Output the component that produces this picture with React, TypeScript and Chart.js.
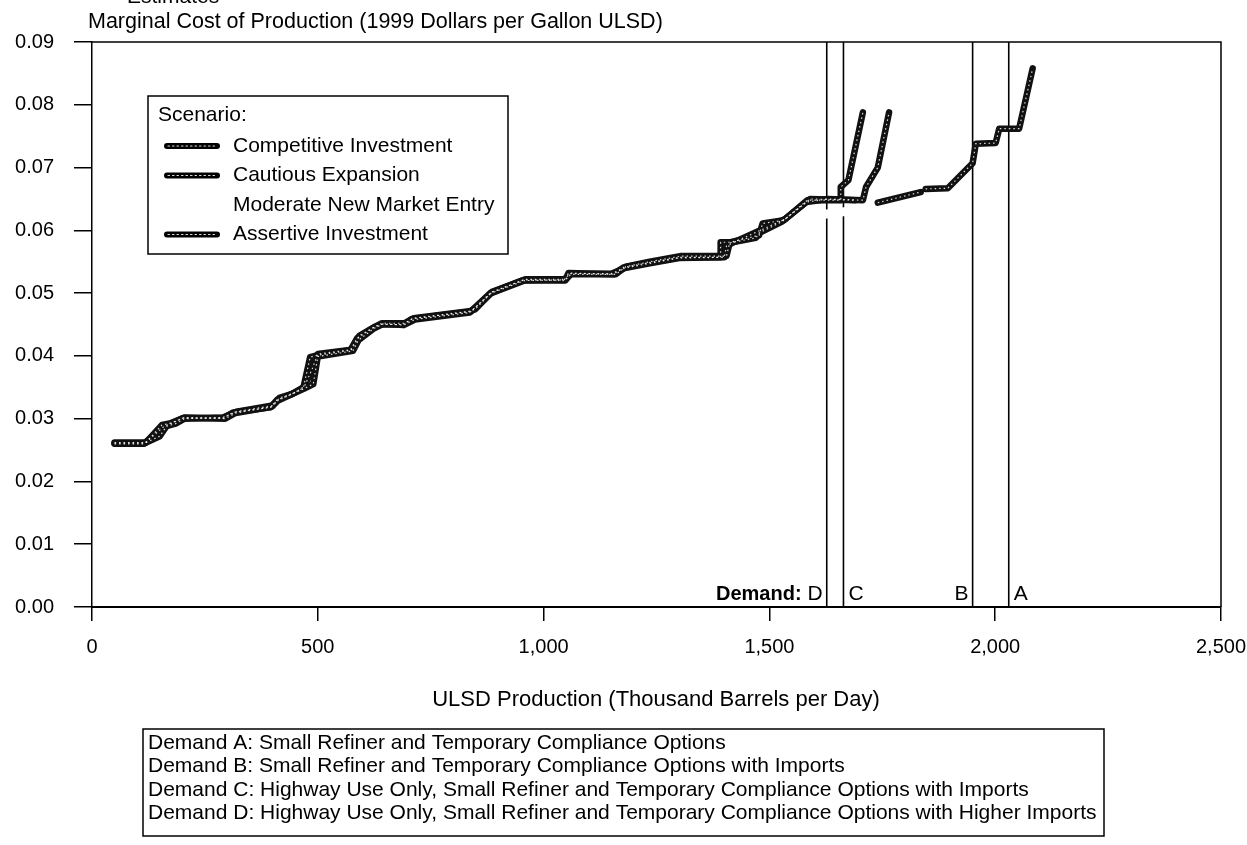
import React, { useEffect, useRef } from 'react';
import { Chart, registerables } from 'chart.js';

Chart.register(...registerables);

const FONT = '"Liberation Sans", Arial, Helvetica, sans-serif';

// ---- Data (ULSD production in thousand bbl/day, marginal cost in 1999 $/gal) ----
const scenarioNames = [
  'Competitive Investment',
  'Cautious Expansion',
  'Moderate New Market Entry',
  'Assertive Investment',
];

const competitiveX = [50, 118, 155, 175, 202, 291, 313, 395, 410, 439, 468, 483, 498, 572, 587, 623, 640, 689, 709, 831, 838, 882, 955, 1048, 1055, 1155, 1177, 1230, 1303, 1392, 1392, 1414, 1477, 1485, 1532, 1584, 1658, 1658, 1675, 1707];
const competitiveY = [0.0261, 0.0261, 0.029, 0.0293, 0.0301, 0.0301, 0.031, 0.0318, 0.033, 0.0338, 0.0349, 0.0398, 0.0401, 0.0409, 0.0428, 0.0445, 0.045, 0.045, 0.0459, 0.047, 0.047, 0.05, 0.0521, 0.052, 0.0532, 0.053, 0.0541, 0.0548, 0.0557, 0.0557, 0.0581, 0.0581, 0.0592, 0.0611, 0.0616, 0.0648, 0.0648, 0.0669, 0.068, 0.0788];

const cautiousX = [50, 120, 150, 165, 185, 205, 290, 320, 400, 415, 445, 470, 488, 500, 575, 592, 628, 642, 692, 712, 835, 848, 886, 960, 1050, 1060, 1160, 1182, 1235, 1305, 1405, 1412, 1470, 1478, 1528, 1582, 1630, 1707, 1714, 1740, 1765];
const cautiousY = [0.0262, 0.0262, 0.0272, 0.0288, 0.0292, 0.03, 0.0302, 0.0311, 0.0321, 0.0333, 0.034, 0.0351, 0.038, 0.0403, 0.041, 0.0432, 0.0447, 0.0452, 0.0452, 0.046, 0.0471, 0.0474, 0.0502, 0.0522, 0.0522, 0.053, 0.053, 0.0542, 0.055, 0.0559, 0.0559, 0.058, 0.0588, 0.0596, 0.0614, 0.0645, 0.065, 0.0648, 0.0669, 0.07, 0.0788];

const moderateX = [50, 120, 160, 205, 290, 400, 480, 495, 580, 595, 630, 690, 840, 882, 960, 1050, 1060, 1160, 1300, 1400, 1480, 1530, 1585, 1700];
const moderateY = [0.0261, 0.0261, 0.029, 0.03, 0.03, 0.032, 0.035, 0.04, 0.041, 0.043, 0.045, 0.045, 0.047, 0.05, 0.052, 0.052, 0.053, 0.053, 0.0557, 0.0557, 0.0595, 0.0605, 0.0622, 0.0633];

const assertiveX = [50, 115, 160, 180, 205, 295, 318, 398, 412, 442, 470, 490, 500, 578, 590, 625, 645, 690, 715, 836, 884, 958, 1045, 1058, 1150, 1180, 1232, 1300, 1400, 1405, 1418, 1480, 1535, 1590, 1690, 1715, 1740, 1835, 1840, 1846, 1895, 1950, 1957, 2001, 2009, 2053, 2083];
const assertiveY = [0.026, 0.026, 0.0288, 0.0294, 0.0302, 0.03, 0.0309, 0.0319, 0.0329, 0.0339, 0.0348, 0.0355, 0.0399, 0.0408, 0.0425, 0.0444, 0.0451, 0.0449, 0.0458, 0.0469, 0.05, 0.052, 0.0521, 0.0531, 0.0531, 0.054, 0.0547, 0.0556, 0.0557, 0.0575, 0.058, 0.06, 0.0618, 0.065, 0.0648, null, 0.0644, 0.0661, null, 0.0666, 0.0667, 0.0707, 0.0738, 0.0739, 0.0762, 0.0762, 0.0858];

const demandLetters = ['A', 'B', 'C', 'D'];
const demandX = [2030, 1950, 1664, 1627];
const demandNotes = [
  'Demand A: Small Refiner and Temporary Compliance Options',
  'Demand B: Small Refiner and Temporary Compliance Options with Imports',
  'Demand C: Highway Use Only, Small Refiner and Temporary Compliance Options with Imports',
  'Demand D: Highway Use Only, Small Refiner and Temporary Compliance Options with Higher Imports',
];

const xTickValues = [0, 500, 1000, 1500, 2000, 2500];
const yTickValues = [0, 0.01, 0.02, 0.03, 0.04, 0.05, 0.06, 0.07, 0.08, 0.09];

const yTitle = 'Marginal Cost of Production (1999 Dollars per Gallon ULSD)';
const xTitle = 'ULSD Production (Thousand Barrels per Day)';
const topCutText = 'Estimates';

const zip = (xs: number[], ys: (number | null)[]) => xs.map((x, i) => ({ x, y: ys[i] }));

const TEXT_SIZE = 21;

const speckle = {
  id: 'speckle',
  afterDatasetsDraw(chart: any) {
    const { ctx } = chart;
    ctx.save();
    ctx.strokeStyle = 'rgba(255,255,255,0.85)';
    ctx.lineWidth = 1.2;
    ctx.setLineDash([1.5, 3]);
    chart.data.datasets.forEach((ds: any, i: number) => {
      if (!ds.speckle) return;
      const pts = chart.getDatasetMeta(i).data;
      ctx.beginPath();
      let pen = false;
      pts.forEach((p: any, j: number) => {
        if (ds.data[j].y === null) { pen = false; return; }
        if (!pen) { ctx.moveTo(p.x, p.y); pen = true; } else ctx.lineTo(p.x, p.y);
      });
      ctx.stroke();
    });
    ctx.restore();
  },
};

const decorPlugin = {
  id: 'decor',
  afterDraw(chart: any) {
    const { ctx, chartArea, scales } = chart;
    const xs = scales.x;
    const ys = scales.y;
    ctx.save();
    ctx.fillStyle = '#000';
    ctx.strokeStyle = '#000';

    // frame (top & right)
    ctx.lineWidth = 1.5;
    ctx.beginPath();
    ctx.moveTo(chartArea.left, chartArea.top);
    ctx.lineTo(chartArea.right, chartArea.top);
    ctx.lineTo(chartArea.right, chartArea.bottom);
    ctx.stroke();

    // cut-off header + y title
    ctx.font = `${TEXT_SIZE}px ${FONT}`;
    ctx.textAlign = 'left';
    ctx.textBaseline = 'alphabetic';
    ctx.fillText(topCutText, 127, 3);
    ctx.textBaseline = 'middle';
    ctx.font = `21.5px ${FONT}`;
    ctx.fillText(yTitle, 88, 22);
    ctx.font = `${TEXT_SIZE}px ${FONT}`;

    // scenario legend
    const lx = 148, ly = 96, lw = 360, lh = 158;
    ctx.lineWidth = 1.5;
    ctx.strokeRect(lx, ly, lw, lh);
    ctx.fillText('Scenario:', 158, 115);
    scenarioNames.forEach((name, i) => {
      const yy = 146 + i * 29.5;
      if (i !== 2) {
        ctx.lineWidth = 6;
        ctx.lineCap = 'round';
        ctx.beginPath();
        ctx.moveTo(167, yy);
        ctx.lineTo(217, yy);
        ctx.stroke();
        ctx.save();
        ctx.strokeStyle = 'rgba(255,255,255,0.85)';
        ctx.lineWidth = 1.2;
        ctx.setLineDash([1.5, 3]);
        ctx.beginPath();
        ctx.moveTo(168, yy);
        ctx.lineTo(216, yy);
        ctx.stroke();
        ctx.restore();
      }
      ctx.fillText(name, 233, yy);
    });

    // demand labels
    const y0 = ys.getPixelForValue(0) - 13;
    demandLetters.forEach((l, i) => {
      const px = xs.getPixelForValue(demandX[i]);
      ctx.font = `${TEXT_SIZE}px ${FONT}`;
      if (l === 'A' || l === 'C') {
        ctx.textAlign = 'left';
        ctx.fillText(l, px + 5, y0);
      } else {
        ctx.textAlign = 'right';
        ctx.fillText(l, px - 4, y0);
        if (l === 'D') {
          const w = ctx.measureText(l).width;
          ctx.font = `bold ${TEXT_SIZE - 1}px ${FONT}`;
          ctx.fillText('Demand:', px - 4 - w - 6, y0);
        }
      }
    });

    // x title
    ctx.font = `22px ${FONT}`;
    ctx.textAlign = 'center';
    ctx.fillText(xTitle, 656, 700);

    // notes box
    ctx.font = `${TEXT_SIZE}px ${FONT}`;
    ctx.lineWidth = 1.5;
    ctx.strokeRect(143, 729, 961, 107);
    ctx.textAlign = 'left';
    demandNotes.forEach((t, i) => {
      ctx.fillText(t, 148, 743 + i * 23.5);
    });
    ctx.restore();
  },
};

export default function App() {
  const ref = useRef<HTMLCanvasElement>(null);
  useEffect(() => {
    if (!ref.current) return;
    const line = (label: string, data: any[], color: string, width: number, order: number) => ({
      label,
      data,
      borderColor: color,
      backgroundColor: color,
      borderWidth: width,
      pointRadius: 0,
      tension: 0,
      fill: false,
      spanGaps: false,
      borderCapStyle: 'round',
      borderJoinStyle: 'round',
      order,
    });
    const datasets: any[] = [
      line(scenarioNames[2], zip(moderateX, moderateY), '#ffffff', 9, 5),
      { ...line(scenarioNames[0], zip(competitiveX, competitiveY), '#111111', 6.5, 3), speckle: true },
      { ...line(scenarioNames[1], zip(cautiousX, cautiousY), '#111111', 6.5, 2), speckle: true },
      { ...line(scenarioNames[3], zip(assertiveX, assertiveY), '#111111', 6.5, 1), speckle: true },
    ];
    demandLetters.forEach((l, i) => {
      datasets.push({
        ...line('Demand ' + l, [{ x: demandX[i], y: 0 }, { x: demandX[i], y: 0.09 }], '#000000', 1.6, 10),
        borderCapStyle: 'butt',
      });
    });

    const chart = new Chart(ref.current, {
      type: 'line',
      data: { datasets },
      options: {
        animation: false,
        responsive: false,
        maintainAspectRatio: false,
        layout: { padding: { top: 42, right: 26, left: 0, bottom: 0 } },
        plugins: { legend: { display: false }, tooltip: { enabled: false } },
        scales: {
          x: {
            type: 'linear',
            min: 0,
            max: 2500,
            afterFit: (s: any) => { s.height = 238; s.paddingLeft = 0; s.paddingRight = 0; },
            afterBuildTicks: (s: any) => { s.ticks = xTickValues.map((v) => ({ value: v })); },
            ticks: {
              color: '#000',
              font: { family: FONT, size: 20 },
              padding: 14,
              maxRotation: 0,
              callback: (v: any) => Number(v).toLocaleString('en-US'),
            },
            grid: { drawOnChartArea: false, drawTicks: true, tickLength: 14, color: '#000', lineWidth: 1.5 },
            border: { display: true, color: '#000', width: 2 },
          },
          y: {
            type: 'linear',
            min: 0,
            max: 0.09,
            afterFit: (s: any) => { s.width = 92; s.paddingTop = 0; s.paddingBottom = 0; },
            afterBuildTicks: (s: any) => { s.ticks = yTickValues.map((v) => ({ value: v })); },
            ticks: {
              color: '#000',
              font: { family: FONT, size: 20 },
              padding: 20,
              callback: (v: any) => Number(v).toFixed(2),
            },
            grid: { drawOnChartArea: false, drawTicks: true, tickLength: 18, color: '#000', lineWidth: 1.5 },
            border: { display: true, color: '#000', width: 1.5 },
          },
        },
      },
      plugins: [speckle, decorPlugin],
    } as any);
    return () => chart.destroy();
  }, []);

  return (
    <div style={{ position: 'absolute', left: 0, top: 0, width: 1247, height: 845, background: '#fff' }}>
      <canvas ref={ref} width={1247} height={845} style={{ display: 'block' }} />
    </div>
  );
}
